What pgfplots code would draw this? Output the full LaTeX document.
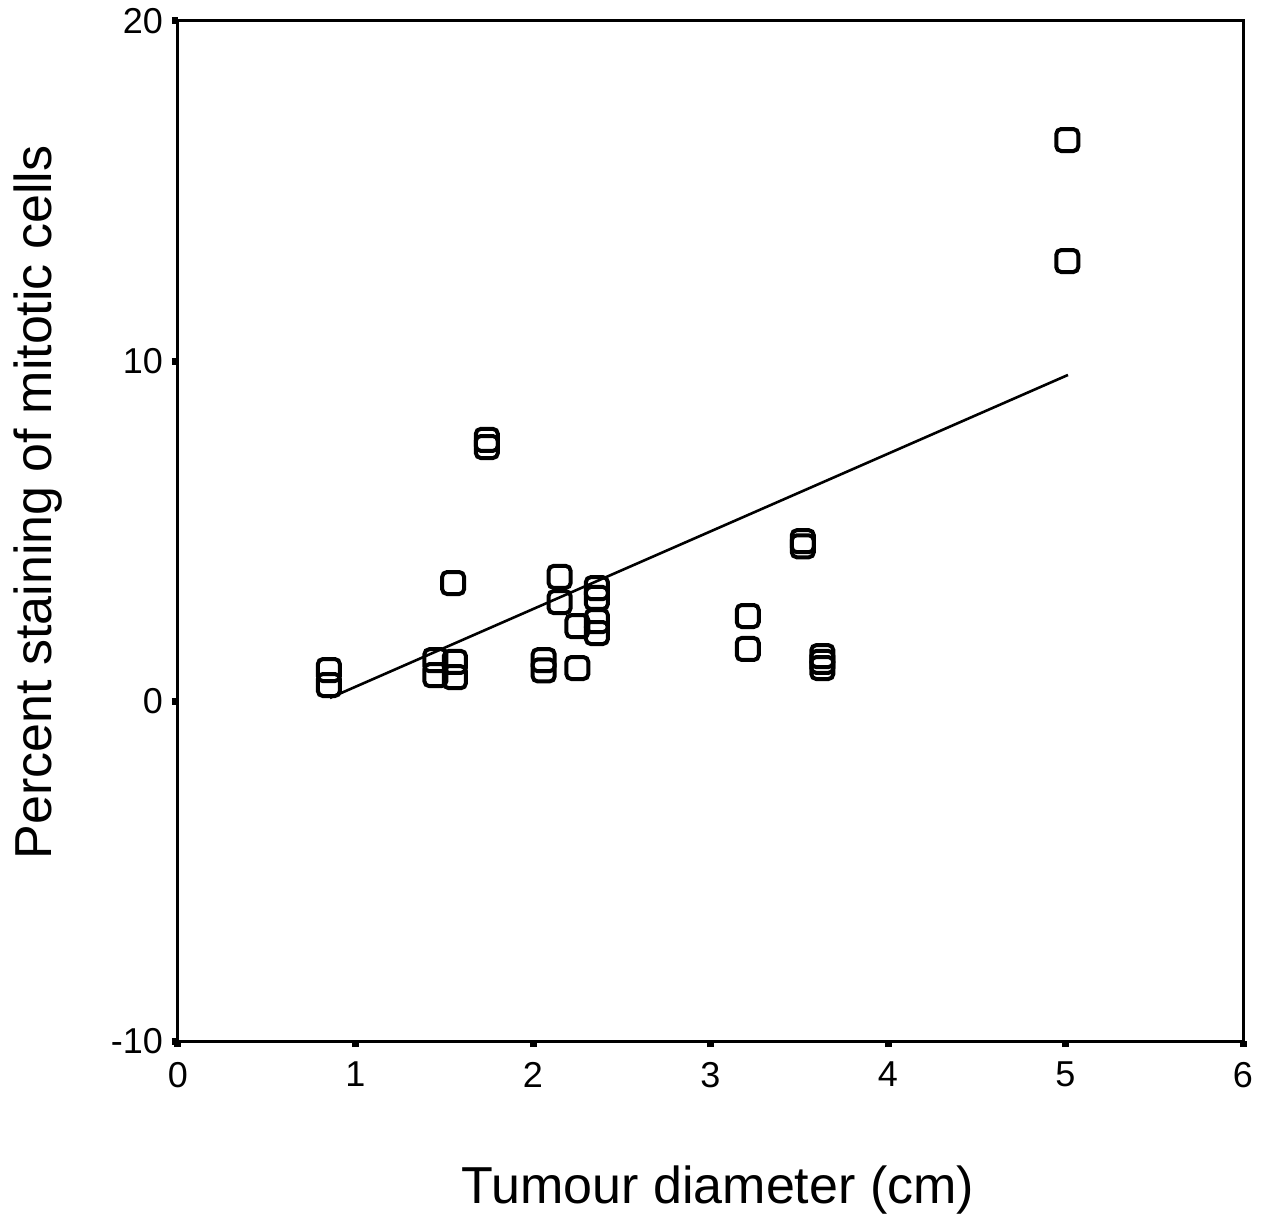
\documentclass[border=0pt]{standalone}
\usepackage{fontspec}
\setmainfont{Liberation Sans}
\usepackage{pgfplots}
\pgfplotsset{compat=1.18}
\pgfdeclareplotmark{rsq}{%
  \pgfmathsetlengthmacro{\rr}{0.45*\pgfplotmarksize}%
  \pgfpathmoveto{\pgfpointadd{\pgfqpoint{-\pgfplotmarksize}{-\pgfplotmarksize}}{\pgfqpoint{\rr}{0pt}}}%
  \pgfpathlineto{\pgfpointadd{\pgfqpoint{\pgfplotmarksize}{-\pgfplotmarksize}}{\pgfqpoint{-\rr}{0pt}}}%
  \pgfpatharc{-90}{0}{\rr}%
  \pgfpathlineto{\pgfpointadd{\pgfqpoint{\pgfplotmarksize}{\pgfplotmarksize}}{\pgfqpoint{0pt}{-\rr}}}%
  \pgfpatharc{0}{90}{\rr}%
  \pgfpathlineto{\pgfpointadd{\pgfqpoint{-\pgfplotmarksize}{\pgfplotmarksize}}{\pgfqpoint{\rr}{0pt}}}%
  \pgfpatharc{90}{180}{\rr}%
  \pgfpathlineto{\pgfpointadd{\pgfqpoint{-\pgfplotmarksize}{-\pgfplotmarksize}}{\pgfqpoint{0pt}{\rr}}}%
  \pgfpatharc{180}{270}{\rr}%
  \pgfpathclose
  \pgfusepathqstroke}
\begin{document}
\begin{tikzpicture}
\useasboundingbox (-89pt,-91pt) rectangle (545pt,520.5pt);
\begin{axis}[
  scale only axis, width=532.5pt, height=510pt,
  at={(0,0)}, anchor=south west,
  xmin=0, xmax=6, ymin=-10, ymax=20,
  xtick={0,1,2,3,4,5,6}, ytick={-10,0,10,20},
  axis line style={line width=1.5pt},
  tick align=outside, xtick pos=bottom, ytick pos=left,
  major tick length=3pt,
  tick style={line width=3.5pt, black},
  /pgf/number format/assume math mode=true,
  tick label style={font=\fontsize{18}{21}\selectfont},
  xticklabel style={yshift=-4pt},
  yticklabel style={xshift=-1pt},
  xlabel={Tumour diameter (cm)},
  ylabel={Percent staining of mitotic cells},
  label style={font=\fontsize{26}{31}\selectfont},
  xlabel style={at={(axis description cs:0.507,-0.146)}, anchor=center},
  ylabel style={at={(axis description cs:-0.1315,0.528)}, anchor=center},
  clip=false,
]
\addplot[only marks, mark=rsq, mark size=5.5pt, mark options={line width=2pt, black}] coordinates {
(0.85,0.91) (0.85,0.47)
(1.45,1.20) (1.45,0.76)
(1.56,1.15) (1.56,0.70)
(1.55,3.47)
(1.74,7.68) (1.74,7.47)
(2.15,3.65) (2.15,2.91)
(2.25,2.20) (2.25,0.97)
(2.36,3.32) (2.36,3.03) (2.36,2.35) (2.36,2.00)
(2.06,1.20) (2.06,0.90)
(3.52,4.55) (3.52,4.70)
(3.21,2.50) (3.21,1.53)
(3.63,1.32) (3.63,1.15) (3.63,0.97)
(5.01,16.50) (5.01,12.94)
};
\addplot[black, line width=1.3pt] coordinates {(0.856,0.09) (5.014,9.59)};
\end{axis}
\end{tikzpicture}
\end{document}
